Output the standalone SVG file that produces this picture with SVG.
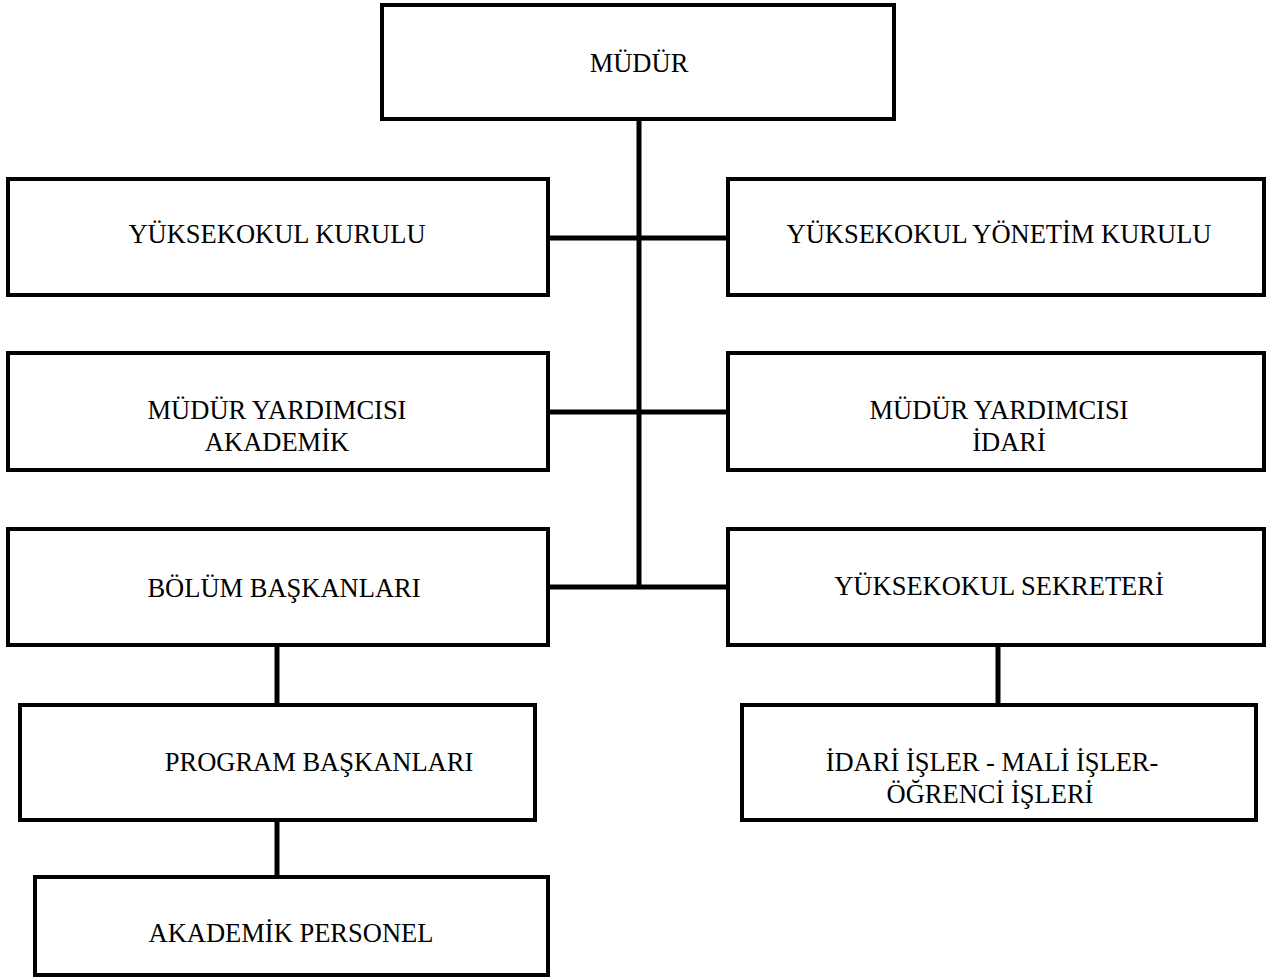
<svg xmlns="http://www.w3.org/2000/svg" width="1271" height="980" viewBox="0 0 1271 980">
<style>
.box{fill:#fff;stroke:#000;stroke-width:4}
.c{stroke:#000;stroke-width:5;fill:none}
text{font-family:"Liberation Serif","Times New Roman",serif;font-size:26.5px;fill:#000;text-anchor:middle}
</style>
<rect width="1271" height="980" fill="#fff"/>
<g id="connectors">
<line class="c" x1="639" y1="119" x2="639" y2="588"/>
<line class="c" x1="548" y1="238" x2="728" y2="238"/>
<line class="c" x1="548" y1="412" x2="728" y2="412"/>
<line class="c" x1="548" y1="587" x2="728" y2="587"/>
<line class="c" x1="277" y1="645" x2="277" y2="705"/>
<line class="c" x1="277" y1="820" x2="277" y2="877"/>
<line class="c" x1="998" y1="645" x2="998" y2="705"/>
</g>
<g id="mudur"><rect class="box" x="382" y="5" width="512" height="114"/><text x="639" y="72">MÜDÜR</text></g>
<g id="yk-kurulu"><rect class="box" x="8" y="179" width="540" height="116"/><text x="277" y="243">YÜKSEKOKUL KURULU</text></g>
<g id="yk-yonetim"><rect class="box" x="728" y="179" width="536" height="116"/><text x="999" y="243">YÜKSEKOKUL YÖNETİM KURULU</text></g>
<g id="my-akademik"><rect class="box" x="8" y="353" width="540" height="117"/><text x="277" y="419">MÜDÜR YARDIMCISI</text><text x="277" y="451">AKADEMİK</text></g>
<g id="my-idari"><rect class="box" x="728" y="353" width="536" height="117"/><text x="999" y="419">MÜDÜR YARDIMCISI</text><text x="1009" y="451">İDARİ</text></g>
<g id="bolum"><rect class="box" x="8" y="529" width="540" height="116"/><text x="284" y="597">BÖLÜM BAŞKANLARI</text></g>
<g id="sekreter"><rect class="box" x="728" y="529" width="536" height="116"/><text x="999" y="595">YÜKSEKOKUL SEKRETERİ</text></g>
<g id="program"><rect class="box" x="20" y="705" width="515" height="115"/><text x="319" y="771">PROGRAM BAŞKANLARI</text></g>
<g id="idari-isler"><rect class="box" x="742" y="705" width="514" height="115"/><text x="992" y="771">İDARİ İŞLER - MALİ İŞLER-</text><text x="990" y="803">ÖĞRENCİ İŞLERİ</text></g>
<g id="akademik-personel"><rect class="box" x="35" y="877" width="513" height="98"/><text x="291" y="942">AKADEMİK PERSONEL</text></g>
</svg>
